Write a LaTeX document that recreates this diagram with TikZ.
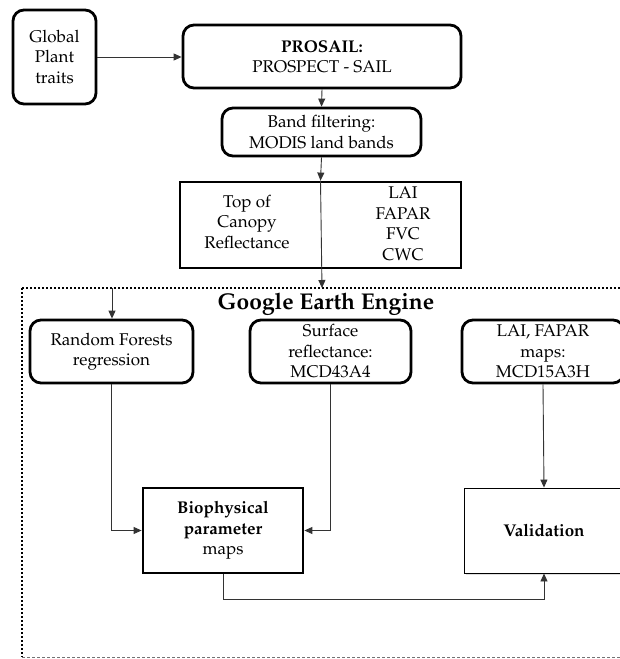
\documentclass[tikz,border=0pt]{standalone}
\usepackage[T1]{fontenc}
\renewcommand{\rmdefault}{ppl}
\usetikzlibrary{arrows.meta,shadows}
\begin{document}
\begin{tikzpicture}[x=1pt,y=-1pt,
  every node/.style={font=\fontsize{17}{20.5}\selectfont, align=center, inner sep=0pt},
  rbox/.style={draw, line width=2.8pt, rounded corners=11pt},
  sbox/.style={draw, line width=2.8pt},
  conn/.style={draw=black!80, line width=0.9pt, -{Triangle[length=8pt,width=7pt]}},
  framedot/.style={line width=2.6pt, dash pattern=on 2.4pt off 1.6pt}]
\useasboundingbox (0,0) rectangle (620,659);
\fill[white] (0,0) rectangle (620,659);
% frame
\draw[framedot] (22,288) -- (640,288);
\draw[framedot] (22,288) -- (22,657);
\draw[black!55, line width=0.8pt, dash pattern=on 3pt off 2pt] (22,657) -- (640,657);
\node[font=\fontsize{22.8}{27}\selectfont\bfseries] (gee) at (326,304) {Google Earth Engine};
% nodes
\node[rbox, minimum width=83pt, minimum height=94pt] (glob) at (54.5,57) {Global\\Plant\\traits};
\node[rbox, minimum width=278pt, minimum height=63pt] (pros) at (322,56.5) {\textbf{PROSAIL:}\\PROSPECT - SAIL};
\node[rbox, minimum width=199pt, minimum height=48pt] (band) at (321.5,132) {Band filtering:\\MODIS land bands};
\node[sbox, minimum width=281pt, minimum height=86pt] (toc) at (320.5,225) {};
\node (tocl) at (247,222) {Top of\\Canopy\\Reflectance};
\node (tocr) at (403,224) {LAI\\FAPAR\\FVC\\CWC};
\node[rbox, minimum width=163pt, minimum height=63pt] (rf) at (111.5,351.5) {Random Forests\\regression};
\node[rbox, minimum width=161pt, minimum height=63pt] (sr) at (330.5,351.5) {Surface\\reflectance:\\MCD43A4};
\node[rbox, minimum width=162pt, minimum height=63pt] (lai) at (543,351.5) {LAI, FAPAR\\maps:\\MCD15A3H};
\node[sbox, minimum width=160pt, minimum height=85pt] (bio) at (223,530.5) {\textbf{Biophysical}\\\textbf{parameter}\\maps};
\node[draw, line width=0.9pt, fill=white, drop shadow={opacity=0.25, shadow xshift=1.5pt, shadow yshift=-1.5pt}, minimum width=160pt, minimum height=85pt] (val) at (544,530.5) {\textbf{Validation}};
% connectors
\coordinate (gtop) at (322,288);
\coordinate (rtop) at (112,288);
\draw[conn] (glob.east) -- (glob.east -| pros.west);
\draw[conn] (pros.south) -- (band.north);
\draw[conn] (band.south) -- (toc.north);
\draw[conn] (toc.north) -- (gtop);
\draw[conn] (rtop) -- (rtop |- rf.north);
\draw[conn] (rf.south) |- (bio.west);
\draw[conn] (sr.south) |- (bio.east);
\draw[conn] (lai.south) -- (val.north);
\draw[conn] (bio.south) -- ++(0,25) -| (val.south);
\end{tikzpicture}
\end{document}
